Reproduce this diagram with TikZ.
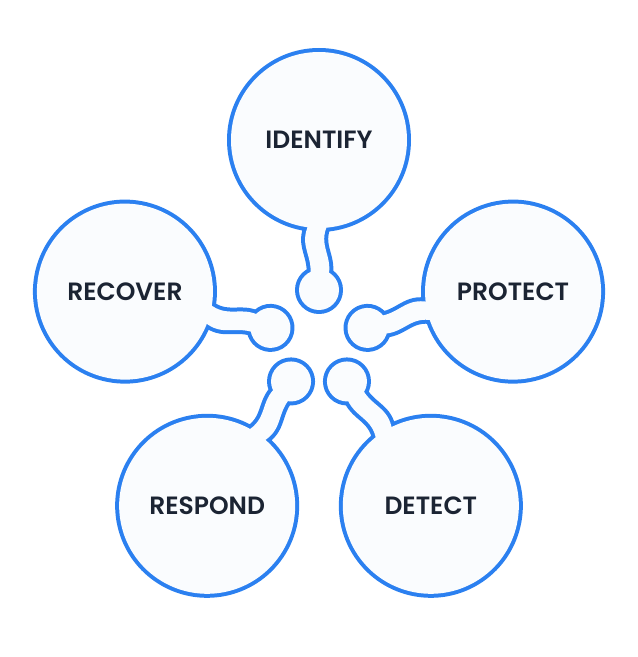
\documentclass[tikz,border=0pt]{standalone}
\usepackage{fontspec}
\setmainfont{Poppins}[BoldFont={* SemiBold}]
\definecolor{ringblue}{HTML}{2B80F0}
\definecolor{petalfill}{HTML}{FAFCFE}
\definecolor{labelnavy}{HTML}{1B2433}
\tikzset{
  petalline/.style={draw=ringblue, line width=8pt, line join=round},
  petalfill/.style={fill=petalfill},
  petaltext/.style={text=labelnavy, font=\fontsize{25}{28}\selectfont\bfseries}
}
\newcommand{\petalshape}{
  (200,0) circle (88)
  (50,0) circle (20)
  (62,-9) .. controls (84,-15) and (94,2) .. (116,-9) -- (116,10) .. controls (94,21) and (84,5) .. (62,9) -- cycle
}
\newcommand{\petal}[3]{
  \begin{scope}[shift={(319,317)}, rotate=#1]
    \path[petalline] \petalshape;
    \path[petalfill] \petalshape;
  \end{scope}
  \node[petaltext] (#3) at ($(319,317)+(#1:200)$) {#2};
}
\usetikzlibrary{calc}
\begin{document}
\begin{tikzpicture}[x=1pt,y=1pt]
  \useasboundingbox (0,0) rectangle (638,657);
  \petal{90}{IDENTIFY}{identify}
  \petal{14}{PROTECT}{protect}
  \petal{166}{RECOVER}{recover}
  \petal{236}{RESPOND}{respond}
  \petal{304}{DETECT}{detect}
\end{tikzpicture}
\end{document}
